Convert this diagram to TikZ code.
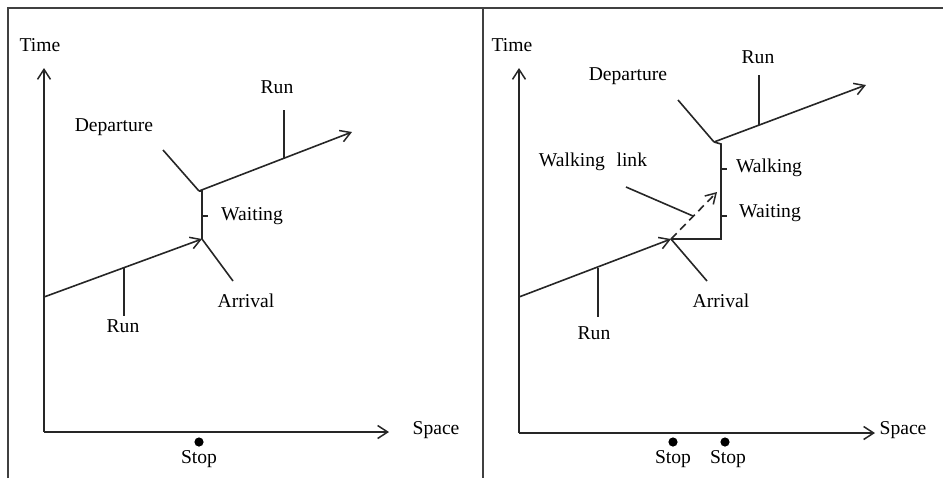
\documentclass[tikz,border=0pt]{standalone}
\usepackage{fontspec}
\setmainfont{Liberation Serif}
\usetikzlibrary{arrows.meta}
\begin{document}
\begin{tikzpicture}[x=0.5pt,y=-0.5pt,
  lbl/.style={inner sep=0pt,font=\fontsize{9.8pt}{11pt}\selectfont},
  ln/.style={line width=0.8pt,draw=black!85},
  axis/.style={line width=0.85pt,draw=black!85,-{Straight Barb[length=5pt,width=6.5pt,line width=0.75pt]}},
  arr/.style={line width=0.8pt,draw=black!85,-{Straight Barb[length=5pt,width=6pt,line width=0.75pt]}},
  frame/.style={line width=1pt,draw=black!75},
  dot/.style={circle,fill=black,inner sep=0pt,minimum size=4.6pt}]
\useasboundingbox (0,0) rectangle (943,478);
% frame
\coordinate (fA) at (8,478);
\coordinate (fB) at (8,8);
\coordinate (fC) at (943,8);
\coordinate (fD) at (483,8);
\coordinate (fE) at (483,478);
\draw[frame] (fA) -- (fB) -- (fC);
\draw[frame] (fD) -- (fE);

% ================= left panel
\coordinate (O1) at (44,432);
\coordinate (T1) at (44,68);
\coordinate (X1) at (389,432);
\draw[axis] (O1) -- (T1);
\draw[axis] (O1) -- (X1);
\node[lbl] (time1) at (40,45) {Time};
\node[lbl] (space1) at (436,430) {Space};
\node[dot] (sd1) at (199,442) {};
\node[lbl] (stop1) at (199,459) {Stop};

\coordinate (r1a) at (44,297);
\coordinate (arr1) at (202,239);
\coordinate (dep1) at (202,191);
\coordinate (dep1b) at (199,191);
\coordinate (r1b) at (352,132);
\draw[arr] (r1a) -- (arr1);
\draw[ln] (arr1) -- (dep1) -- (dep1b);
\draw[arr] (dep1b) -- (r1b);
\coordinate (wt1a) at (202,216);
\coordinate (wt1b) at (208,216);
\draw[ln] (wt1a) -- (wt1b);

\node[lbl] (departure1) at (114,127) {Departure};
\node[lbl] (runup1) at (277,87) {Run};
\node[lbl] (waiting1) at (252,216) {Waiting};
\node[lbl] (arrival1) at (246,301) {Arrival};
\node[lbl] (runlo1) at (123,326) {Run};

\coordinate (pd1) at (163,150);
\draw[ln] (pd1) -- (dep1b);
\coordinate (pr1a) at (284,110);
\coordinate (pr1b) at (284,158);
\draw[ln] (pr1a) -- (pr1b);
\coordinate (pa1) at (233,281);
\draw[ln] (arr1) -- (pa1);
\coordinate (pl1a) at (124,268);
\coordinate (pl1b) at (124,316);
\draw[ln] (pl1a) -- (pl1b);

% ================= right panel
\coordinate (O2) at (519,433);
\coordinate (T2) at (519,68);
\coordinate (X2) at (875,433);
\draw[axis] (O2) -- (T2);
\draw[axis] (O2) -- (X2);
\node[lbl] (time2) at (512,45) {Time};
\node[lbl] (space2) at (903,430) {Space};
\node[dot] (sd2) at (673,442) {};
\node[dot] (sd3) at (725,442) {};
\node[lbl] (stop2) at (673,459) {Stop};
\node[lbl] (stop3) at (728,459) {Stop};

\coordinate (r2a) at (519,297);
\coordinate (arr2) at (671,239);
\coordinate (cor2) at (721,239);
\coordinate (top2) at (721,144);
\coordinate (dep2) at (714,142);
\coordinate (r2b) at (866,85);
\coordinate (wl2) at (717,192);
\draw[arr] (r2a) -- (arr2);
\draw[ln] (arr2) -- (cor2) -- (top2) -- (dep2);
\draw[arr] (dep2) -- (r2b);
\draw[arr,dashed,dash pattern=on 4pt off 2.5pt] (arr2) -- (wl2);
\coordinate (wk2a) at (721,169);
\coordinate (wk2b) at (727,169);
\coordinate (wt2a) at (721,216);
\coordinate (wt2b) at (727,216);
\draw[ln] (wk2a) -- (wk2b);
\draw[ln] (wt2a) -- (wt2b);

\node[lbl] (departure2) at (628,76) {Departure};
\node[lbl] (runup2) at (758,57) {Run};
\node[lbl] (walking2) at (769,168) {Walking};
\node[lbl] (waiting2) at (770,213) {Waiting};
\node[lbl] (wlink2) at (593,162) {Walking\hspace{0.6em}link};
\node[lbl] (arrival2) at (721,301) {Arrival};
\node[lbl] (runlo2) at (594,333) {Run};

\coordinate (pd2) at (678,100);
\draw[ln] (pd2) -- (dep2);
\coordinate (pr2a) at (759,75);
\coordinate (pr2b) at (759,125);
\draw[ln] (pr2a) -- (pr2b);
\coordinate (pw2a) at (626,187);
\coordinate (pw2b) at (693,216);
\draw[ln] (pw2a) -- (pw2b);
\coordinate (pa2) at (707,281);
\draw[ln] (arr2) -- (pa2);
\coordinate (pl2a) at (598,268);
\coordinate (pl2b) at (598,317);
\draw[ln] (pl2a) -- (pl2b);
\end{tikzpicture}
\end{document}
